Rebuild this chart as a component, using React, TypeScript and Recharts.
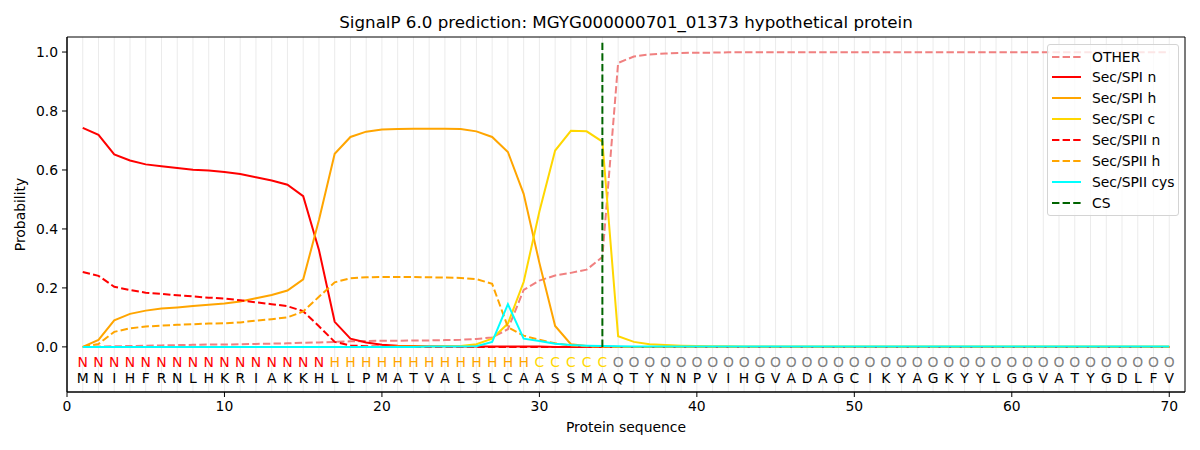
import React from 'react';
import {
  CartesianGrid,
  ComposedChart,
  Line,
  ReferenceArea,
  ReferenceLine,
  Scatter,
  XAxis,
  YAxis,
} from 'recharts';

const title = 'SignalP 6.0 prediction: MGYG000000701_01373 hypothetical protein';

// amino acid sequence and predicted region per residue
const sequence = 'MNIHFRNLHKRIAKKHLLPMATVALSLCAASSMAQTYNNPVIHGVADAGCIKYAGKYYLGGVATYGDLFV';
const regions = 'NNNNNNNNNNNNNNNNHHHHHHHHHHHHHCCCCCOOOOOOOOOOOOOOOOOOOOOOOOOOOOOOOOOOOO';

const other = [
  0.000, 0.001, 0.002, 0.003, 0.004, 0.005, 0.006, 0.007, 0.008, 0.008,
  0.009, 0.010, 0.011, 0.012, 0.014, 0.015, 0.017, 0.019, 0.020, 0.021,
  0.021, 0.022, 0.022, 0.023, 0.024, 0.027, 0.032, 0.060, 0.193, 0.225,
  0.242, 0.251, 0.262, 0.305, 0.963, 0.985, 0.992, 0.995, 0.997, 0.998,
  0.998, 0.999, 0.999, 0.999, 0.999, 0.999, 0.999, 0.999, 0.999, 0.999,
  0.999, 0.999, 0.999, 0.999, 0.999, 0.999, 0.999, 0.999, 0.999, 0.999,
  0.999, 0.999, 0.999, 0.999, 0.999, 0.999, 0.999, 0.999, 0.999, 0.999,
];
const spiN = [
  0.743, 0.719, 0.653, 0.632, 0.619, 0.613, 0.607, 0.601, 0.598, 0.593,
  0.586, 0.575, 0.564, 0.550, 0.511, 0.329, 0.085, 0.028, 0.015, 0.007,
  0.004, 0.003, 0.002, 0.002, 0.001, 0.001, 0.001, 0.001, 0.001, 0.001,
  0.000, 0.000, 0.000, 0.000, 0.000, 0.000, 0.000, 0.000, 0.000, 0.000,
  0.000, 0.000, 0.000, 0.000, 0.000, 0.000, 0.000, 0.000, 0.000, 0.000,
  0.000, 0.000, 0.000, 0.000, 0.000, 0.000, 0.000, 0.000, 0.000, 0.000,
  0.000, 0.000, 0.000, 0.000, 0.000, 0.000, 0.000, 0.000, 0.000, 0.000,
];
const spiH = [
  0.000, 0.024, 0.090, 0.112, 0.123, 0.130, 0.134, 0.139, 0.143, 0.147,
  0.154, 0.165, 0.176, 0.191, 0.229, 0.430, 0.655, 0.712, 0.730, 0.737,
  0.739, 0.740, 0.740, 0.740, 0.739, 0.731, 0.712, 0.661, 0.519, 0.285,
  0.071, 0.009, 0.003, 0.001, 0.000, 0.000, 0.000, 0.000, 0.000, 0.000,
  0.000, 0.000, 0.000, 0.000, 0.000, 0.000, 0.000, 0.000, 0.000, 0.000,
  0.000, 0.000, 0.000, 0.000, 0.000, 0.000, 0.000, 0.000, 0.000, 0.000,
  0.000, 0.000, 0.000, 0.000, 0.000, 0.000, 0.000, 0.000, 0.000, 0.000,
];
const spiC = [
  0.000, 0.000, 0.000, 0.000, 0.000, 0.000, 0.000, 0.000, 0.000, 0.000,
  0.000, 0.000, 0.000, 0.000, 0.000, 0.000, 0.000, 0.000, 0.000, 0.000,
  0.001, 0.001, 0.001, 0.002, 0.003, 0.009, 0.028, 0.079, 0.220, 0.459,
  0.666, 0.733, 0.731, 0.696, 0.036, 0.017, 0.009, 0.006, 0.004, 0.003,
  0.002, 0.002, 0.001, 0.001, 0.001, 0.001, 0.001, 0.001, 0.001, 0.001,
  0.001, 0.001, 0.001, 0.001, 0.001, 0.001, 0.001, 0.001, 0.001, 0.001,
  0.001, 0.001, 0.001, 0.001, 0.001, 0.001, 0.001, 0.001, 0.001, 0.001,
];
const spiiN = [
  0.254, 0.241, 0.204, 0.193, 0.184, 0.180, 0.175, 0.171, 0.167, 0.164,
  0.158, 0.151, 0.145, 0.138, 0.121, 0.070, 0.017, 0.005, 0.002, 0.001,
  0.000, 0.000, 0.000, 0.000, 0.000, 0.000, 0.000, 0.000, 0.000, 0.000,
  0.000, 0.000, 0.000, 0.000, 0.000, 0.000, 0.000, 0.000, 0.000, 0.000,
  0.000, 0.000, 0.000, 0.000, 0.000, 0.000, 0.000, 0.000, 0.000, 0.000,
  0.000, 0.000, 0.000, 0.000, 0.000, 0.000, 0.000, 0.000, 0.000, 0.000,
  0.000, 0.000, 0.000, 0.000, 0.000, 0.000, 0.000, 0.000, 0.000, 0.000,
];
const spiiH = [
  0.000, 0.010, 0.051, 0.063, 0.069, 0.072, 0.075, 0.077, 0.079, 0.080,
  0.083, 0.089, 0.094, 0.100, 0.120, 0.170, 0.219, 0.233, 0.236, 0.237,
  0.237, 0.237, 0.236, 0.235, 0.234, 0.230, 0.214, 0.067, 0.038, 0.024,
  0.012, 0.005, 0.002, 0.001, 0.000, 0.000, 0.000, 0.000, 0.000, 0.000,
  0.000, 0.000, 0.000, 0.000, 0.000, 0.000, 0.000, 0.000, 0.000, 0.000,
  0.000, 0.000, 0.000, 0.000, 0.000, 0.000, 0.000, 0.000, 0.000, 0.000,
  0.000, 0.000, 0.000, 0.000, 0.000, 0.000, 0.000, 0.000, 0.000, 0.000,
];
const spiiCys = [
  0.000, 0.000, 0.000, 0.000, 0.000, 0.000, 0.000, 0.000, 0.000, 0.000,
  0.000, 0.000, 0.000, 0.000, 0.000, 0.000, 0.000, 0.000, 0.000, 0.000,
  0.000, 0.000, 0.001, 0.001, 0.001, 0.002, 0.017, 0.145, 0.028, 0.020,
  0.011, 0.006, 0.004, 0.003, 0.002, 0.001, 0.001, 0.001, 0.001, 0.001,
  0.001, 0.001, 0.001, 0.001, 0.001, 0.001, 0.001, 0.001, 0.001, 0.001,
  0.001, 0.001, 0.001, 0.001, 0.001, 0.001, 0.001, 0.001, 0.001, 0.001,
  0.001, 0.001, 0.001, 0.001, 0.001, 0.001, 0.001, 0.001, 0.001, 0.001,
];

const csPosition = 34;
const csTop = 1.035;

const xTicks = [0, 10, 20, 30, 40, 50, 60, 70];
const yTicks = [0, 0.2, 0.4, 0.6, 0.8, 1.0];

const regionColors: Record<string, string> = {
  N: '#ff0000',
  H: '#ffa500',
  C: '#ffd700',
  O: '#808080',
};

const series = [
  { key: 'other', name: 'OTHER', color: '#f08080', dashed: true },
  { key: 'spiN', name: 'Sec/SPI n', color: '#ff0000', dashed: false },
  { key: 'spiH', name: 'Sec/SPI h', color: '#ffa500', dashed: false },
  { key: 'spiC', name: 'Sec/SPI c', color: '#ffd700', dashed: false },
  { key: 'spiiN', name: 'Sec/SPII n', color: '#ff0000', dashed: true },
  { key: 'spiiH', name: 'Sec/SPII h', color: '#ffa500', dashed: true },
  { key: 'spiiCys', name: 'Sec/SPII cys', color: '#00ffff', dashed: false },
];

const FONT = '"DejaVu Sans", sans-serif';
const DASH = '7.4 3.2';
const REGION_ROW = -0.069;
const RESIDUE_ROW = -0.122;
const X_DOMAIN = [0, 71];

const positions = sequence.split('').map((_, i) => i + 1);

const rows = positions.map((pos, i) => ({
  pos,
  other: other[i],
  spiN: spiN[i],
  spiH: spiH[i],
  spiC: spiC[i],
  spiiN: spiiN[i],
  spiiH: spiiH[i],
  spiiCys: spiiCys[i],
}));

const regionLabels = positions.map((pos, i) => ({
  pos,
  y: REGION_ROW,
  label: regions[i],
  color: regionColors[regions[i]],
}));

const residueLabels = positions.map((pos, i) => ({
  pos,
  y: RESIDUE_ROW,
  label: sequence[i],
  color: '#000000',
}));

const Letter = (props: any) => {
  const { cx, cy, payload } = props;
  if (cx == null || cy == null) return null;
  return (
    <text x={cx} y={cy} textAnchor="middle" fill={payload.color} fontSize={13.9} fontFamily={FONT}>
      {payload.label}
    </text>
  );
};

const legendItems = [
  ...series,
  { key: 'cs', name: 'CS', color: '#006400', dashed: true },
];

const ChartLegend = () => (
  <div
    style={{
      position: 'absolute',
      left: 1047,
      top: 44,
      width: 130,
      height: 170,
      border: '1px solid #d4d4d4',
      borderRadius: 3,
      background: 'rgba(255,255,255,0.8)',
      fontFamily: FONT,
      fontSize: 13.9,
    }}
  >
    {legendItems.map((item, i) => (
      <div
        key={item.key}
        style={{
          position: 'absolute',
          left: 4,
          top: 1.5 + i * 20.9,
          height: 20,
          display: 'flex',
          alignItems: 'center',
          whiteSpace: 'nowrap',
        }}
      >
        <svg width={29} height={4} style={{ marginRight: 11 }}>
          <line
            x1={0}
            y1={2}
            x2={29}
            y2={2}
            stroke={item.color}
            strokeWidth={2}
            strokeDasharray={item.dashed ? DASH : undefined}
          />
        </svg>
        <span>{item.name}</span>
      </div>
    ))}
  </div>
);

const App: React.FC = () => {
  return (
    <div style={{ position: 'relative', width: 1200, height: 450, fontFamily: FONT, background: '#fff' }}>
      <style>{'body { margin: 0; }'}</style>
      <div
        style={{
          position: 'absolute',
          left: 67,
          top: 12,
          width: 1118,
          textAlign: 'center',
          fontSize: 16.7,
          lineHeight: '20px',
          color: '#000',
        }}
      >
        {title}
      </div>
      <ComposedChart
        width={1200}
        height={450}
        data={rows}
        margin={{ top: 37, right: 15, bottom: 0, left: 0 }}
      >
        {/* hidden axis whose ticks drive the per-residue vertical grid */}
        <XAxis
          xAxisId="grid"
          dataKey="pos"
          type="number"
          domain={X_DOMAIN}
          ticks={positions}
          interval={0}
          allowDataOverflow
          hide
        />
        <CartesianGrid xAxisId="grid" horizontal={false} stroke="#ebebeb" />
        <XAxis
          dataKey="pos"
          type="number"
          domain={X_DOMAIN}
          ticks={xTicks}
          allowDataOverflow
          height={58}
          tickSize={5}
          tickMargin={4}
          stroke="#000"
          tick={{ fill: '#000', fontSize: 13.9, fontFamily: FONT }}
          label={{
            value: 'Protein sequence',
            position: 'insideBottom',
            offset: 18,
            fill: '#000',
            fontSize: 13.9,
            fontFamily: FONT,
          }}
        />
        <YAxis
          type="number"
          domain={[-0.153, 1.051]}
          ticks={yTicks}
          allowDataOverflow
          width={67}
          tickSize={5}
          tickMargin={4}
          stroke="#000"
          tickFormatter={(v: number) => v.toFixed(1)}
          tick={{ fill: '#000', fontSize: 13.9, fontFamily: FONT }}
          label={{
            value: 'Probability',
            angle: -90,
            position: 'insideLeft',
            offset: 20,
            fill: '#000',
            fontSize: 13.9,
            fontFamily: FONT,
            style: { textAnchor: 'middle' },
          }}
        />
        {series.map((s) => (
          <Line
            key={s.key}
            dataKey={s.key}
            name={s.name}
            type="linear"
            stroke={s.color}
            strokeWidth={2}
            strokeDasharray={s.dashed ? DASH : undefined}
            dot={false}
            activeDot={false}
            isAnimationActive={false}
          />
        ))}
        <ReferenceLine
          segment={[
            { x: csPosition, y: 0 },
            { x: csPosition, y: csTop },
          ]}
          stroke="#006400"
          strokeWidth={2}
          strokeDasharray={DASH}
        />
        <Scatter data={regionLabels} dataKey="y" shape={<Letter />} isAnimationActive={false} />
        <Scatter data={residueLabels} dataKey="y" shape={<Letter />} isAnimationActive={false} />
        <ReferenceArea
          x1={0}
          x2={71}
          y1={-0.153}
          y2={1.051}
          fill="none"
          stroke="#000"
          strokeWidth={1}
          fillOpacity={0}
        />
      </ComposedChart>
      <ChartLegend />
    </div>
  );
};

export default App;
